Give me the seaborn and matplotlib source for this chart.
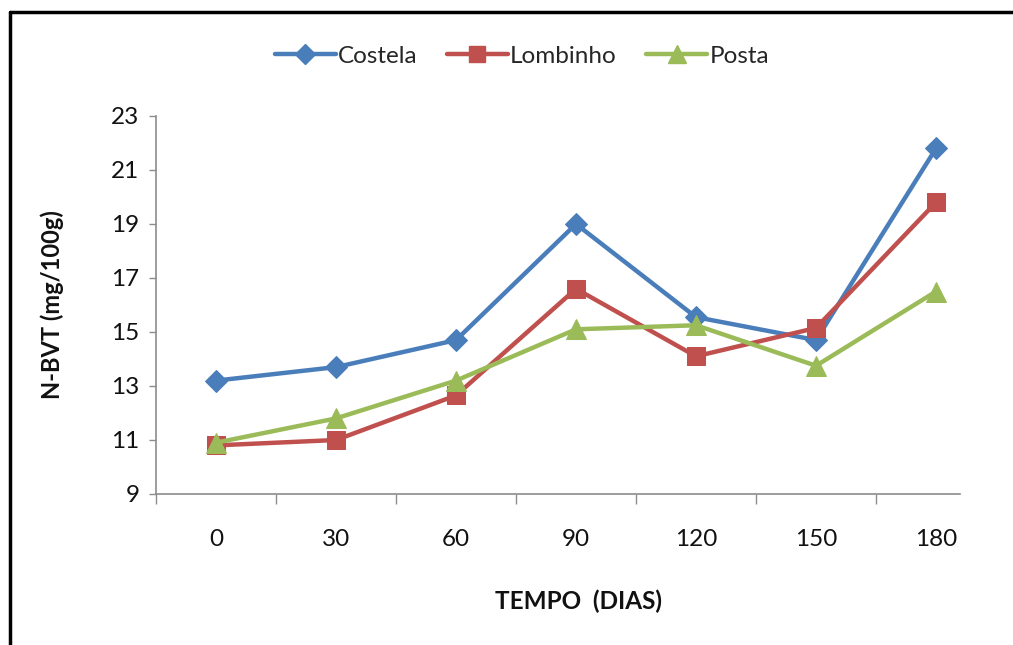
import matplotlib
matplotlib.use("Agg")
import matplotlib.pyplot as plt
import seaborn as sns
import pandas as pd
import numpy as np
from matplotlib.lines import Line2D

# Storage time (days) and N-BVT values (mg/100g) per cut
tempo = ["0", "30", "60", "90", "120", "150", "180"]
costela = [13.2, 13.7, 14.7, 19.0, 15.55, 14.7, 21.8]
lombinho = [10.8, 11.0, 12.65, 16.6, 14.1, 15.15, 19.8]
posta = [10.9, 11.8, 13.2, 15.1, 15.25, 13.75, 16.5]
series_names = ["Costela", "Lombinho", "Posta"]
y_ticks = [9, 11, 13, 15, 17, 19, 21, 23]

colors = {"Costela": "#4A7EBB", "Lombinho": "#C0504D", "Posta": "#9BBB59"}
markers = {"Costela": "D", "Lombinho": "s", "Posta": "^"}
msizes = {"Costela": 11, "Lombinho": 13, "Posta": 14}

df = pd.DataFrame({
    "tempo": tempo * 3,
    "valor": costela + lombinho + posta,
    "serie": np.repeat(series_names, len(tempo)),
})

sns.set_theme(style="white")
plt.rcParams["font.family"] = ["Lato", "DejaVu Sans"]

fig = plt.figure(figsize=(10.13, 6.45), dpi=100)
ax = fig.add_axes([156 / 1013, 1 - 494 / 645, (960 - 156) / 1013, (494 - 116) / 645])

for name in series_names:
    sub = df[df["serie"] == name]
    sns.lineplot(data=sub, x="tempo", y="valor", ax=ax, color=colors[name],
                 marker=markers[name], markersize=msizes[name],
                 markeredgecolor=colors[name], linewidth=3.2, sort=False,
                 legend=False)

ax.set_ylim(9, 23)
ax.set_yticks(y_ticks)
ax.set_xlim(-0.5, 6.2)
ax.set_xticks(range(len(tempo)))
ax.set_xticklabels(tempo)
ax.set_xticks(np.arange(-0.5, 6.0, 1.0), minor=True)

axis_gray = "#8C8C8C"
for side in ["top", "right"]:
    ax.spines[side].set_visible(False)
for side in ["left", "bottom"]:
    ax.spines[side].set_color(axis_gray)
    ax.spines[side].set_linewidth(1.2)

tick_fs = 17.5
ax.tick_params(axis="y", which="major", direction="out", length=5, width=1,
               color=axis_gray, labelsize=tick_fs, labelcolor="#111111", pad=7, left=True)
ax.tick_params(axis="x", which="major", length=0, labelsize=tick_fs,
               labelcolor="#111111", pad=25)
ax.tick_params(axis="x", which="minor", direction="out", length=7, width=1,
               color=axis_gray, bottom=True)

ax.set_xlabel("")
ax.set_ylabel("")
fig.text(578 / 1013, 1 - 601 / 645, "TEMPO  (DIAS)", ha="center", va="center",
         fontsize=17.5, fontweight="bold", color="#111111")
fig.text(52 / 1013, 1 - 305 / 645, "N-BVT (mg/100g)", ha="center", va="center",
         rotation=90, fontsize=17, fontweight="bold", color="#111111")

handles = [Line2D([0], [0], color=colors[n], marker=markers[n], markersize=msizes[n] - 1,
                  markeredgecolor=colors[n], linewidth=3.2) for n in series_names]
fig.legend(handles, series_names, loc="center", bbox_to_anchor=(522 / 1013, 1 - 56 / 645),
           ncol=3, frameon=False, fontsize=17.5, handlelength=2.5, handletextpad=0.1,
           columnspacing=1.2)

# Frame lines along the top and left edges of the figure
fig.add_artist(Line2D([9.5 / 1013, 1.0], [1 - 12 / 645, 1 - 12 / 645],
                      transform=fig.transFigure, color="black", linewidth=2.5))
fig.add_artist(Line2D([9.5 / 1013, 9.5 / 1013], [0.0, 1 - 12 / 645],
                      transform=fig.transFigure, color="black", linewidth=2.5))

fig.savefig("out.png", dpi=100)
